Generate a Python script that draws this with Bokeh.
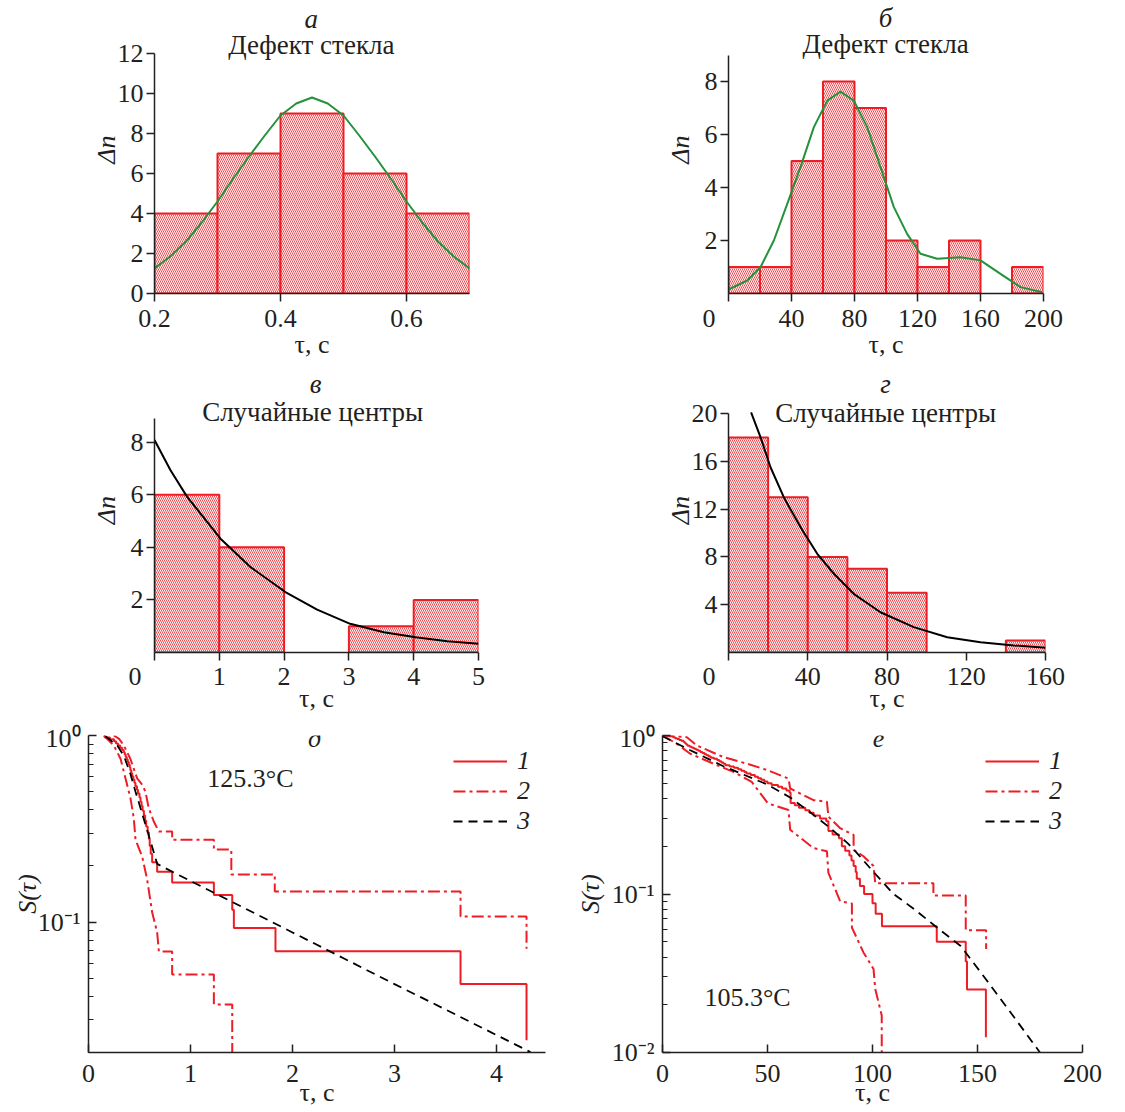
import numpy as np
from bokeh.plotting import figure
from bokeh.layouts import column, row
from bokeh.models import FixedTicker, Label, Legend, LegendItem, Range1d
from bokeh.embed import file_html
from bokeh.resources import INLINE

# ---------------- data ----------------
# (а) glass defect, tau in s
edges_a = [0.2, 0.3, 0.4, 0.5, 0.6, 0.7]
counts_a = [4, 7, 9, 6, 4]
fit_a_x = [0.2, 0.225, 0.25, 0.275, 0.3, 0.325, 0.35, 0.375, 0.4, 0.425, 0.45,
           0.475, 0.5, 0.525, 0.55, 0.575, 0.6, 0.625, 0.65, 0.675, 0.7]
fit_a_y = [1.25, 1.85, 2.6, 3.55, 4.6, 5.75, 6.85, 7.9, 8.9, 9.5, 9.8,
           9.5, 8.9, 7.9, 6.85, 5.75, 4.6, 3.55, 2.6, 1.85, 1.25]

# (б) glass defect
edges_b = [0, 20, 40, 60, 80, 100, 120, 140, 160, 180, 200]
counts_b = [1, 1, 5, 8, 7, 2, 1, 2, 0, 1]
fit_b_x = [0, 11.9, 20.3, 28.8, 37.3, 45.7, 54.2, 62.7, 71.1, 79.6, 88.1, 96.5,
           105, 113.4, 121.9, 132.5, 147.3, 160, 172.7, 185.4, 199.2]
fit_b_y = [0.15, 0.49, 0.99, 2.0, 3.38, 4.77, 6.28, 7.28, 7.62, 7.28, 6.28, 4.77,
           3.26, 2.25, 1.5, 1.31, 1.37, 1.25, 0.74, 0.24, 0.05]

# (в) random centres
edges_c = [0, 1, 2, 3, 4, 5]
counts_c = [6, 4, 0, 1, 2]
fit_c_x = [0, 0.247, 0.504, 1.019, 1.48, 2.02, 2.51, 3.02, 3.54, 4.03, 4.52, 5.0]
fit_c_y = [8.08, 6.93, 5.92, 4.33, 3.25, 2.3, 1.63, 1.09, 0.77, 0.58, 0.43, 0.33]

# (г) random centres
edges_d = [0, 20, 40, 60, 80, 100, 120, 140, 160]
counts_d = [18, 13, 8, 7, 5, 0, 0, 1]
fit_d_x = [11.4, 16.2, 21.2, 27.9, 36.3, 44.8, 53.2, 63.2, 76.7, 93.5, 110.4, 127.2, 144, 160]
fit_d_y = [20.1, 18.0, 15.5, 13.0, 10.5, 8.26, 6.59, 4.91, 3.37, 2.12, 1.28, 0.86, 0.59, 0.39]

# (д) survival, 125.3 C : event times of curve 1 (n = 43)
n_total_5 = 43
start_5 = 0.15
events_5 = [0.16, 0.21, 0.25, 0.27, 0.29, 0.31, 0.33, 0.345,
            0.355, 0.365, 0.375, 0.385, 0.395, 0.405, 0.41, 0.42, 0.428,
            0.44, 0.45, 0.46, 0.475, 0.485, 0.50, 0.51,
            0.52, 0.53, 0.543, 0.555, 0.565, 0.58, 0.592,
            0.60, 0.61, 0.624, 0.673,
            0.82, 1.229, 1.409, 1.425, 1.833, 3.647, 4.294]
upper_5_x = [0.248, 0.30, 0.346, 0.41, 0.477, 0.52, 0.559, 0.59, 0.64, 0.69, 0.82, 0.82,
             1.229, 1.229, 1.40, 1.40, 1.826, 1.826, 3.647, 3.647, 4.294, 4.294]
upper_5_s = [1.0, 0.96, 0.885, 0.751, 0.589, 0.55, 0.5, 0.408, 0.346, 0.306, 0.306, 0.276,
             0.276, 0.245, 0.245, 0.18, 0.18, 0.146, 0.146, 0.107, 0.107, 0.072]
lower_5_x = [0.15, 0.248, 0.314, 0.363, 0.412, 0.444, 0.461, 0.526, 0.575, 0.624, 0.673,
             0.69, 0.82, 0.82, 1.229, 1.229, 1.409, 1.409]
lower_5_s = [1.0, 0.885, 0.751, 0.589, 0.46, 0.36, 0.276, 0.225, 0.169, 0.113, 0.088,
             0.0695, 0.0695, 0.0523, 0.0523, 0.0362, 0.0362, 0.02]
model_5_x = [0.167, 0.281, 0.346, 0.412, 0.461, 0.51, 0.559, 0.608, 0.673, 1.0, 1.5,
             2.0, 2.5, 3.0, 3.5, 4.0, 4.333]
model_5_s = [0.99, 0.885, 0.78, 0.62, 0.5, 0.408, 0.332, 0.271, 0.205, 0.166, 0.121,
             0.088, 0.064, 0.0465, 0.034, 0.0248, 0.0201]

# (е) survival, 105.3 C : event times of curve 1 (n = 80)
n_total_6 = 80
start_6 = 0.0
events_6 = [3, 5, 6, 7, 8, 9, 10, 10.5, 11, 11.5, 12, 13,
            14, 15, 16, 17, 18, 19, 20,
            21, 22, 23, 24.5, 26, 27, 28, 29, 30,
            32, 34, 36, 37.5, 39, 40,
            42, 44, 45.5, 47, 48.5, 50,
            52, 55, 57, 59, 60.5,
            61, 61, 61, 61, 61,
            63, 65, 68, 70, 72, 75, 78,
            79, 79, 79, 81, 84, 85.4, 85.4, 87, 89,
            90, 91, 92, 92.5, 94, 96,
            100, 101.5, 104.5, 130.6, 144.4, 145, 154]
upper_6_x = [0, 11.6, 16.3, 29, 40.2, 50.2, 60, 60.8, 71.9, 78.3, 79, 84.6, 91, 91,
             95.7, 100.5, 101.3, 129, 129, 144.4, 144.4, 154.1, 154.1]
upper_6_s = [1.0, 0.976, 0.866, 0.731, 0.664, 0.603, 0.535, 0.463, 0.391, 0.382, 0.308,
             0.26, 0.236, 0.19, 0.173, 0.15, 0.117, 0.117, 0.098, 0.098, 0.059, 0.059, 0.0449]
lower_6_x = [0, 6.8, 13.2, 24.3, 33.8, 42.5, 50.2, 60, 60.8, 71.9, 78.3, 79, 84.6,
             90.2, 90.2, 95.7, 100.5, 101.3, 104.4, 104.4]
lower_6_s = [1.0, 0.887, 0.767, 0.664, 0.589, 0.51, 0.373, 0.339, 0.254, 0.195, 0.186,
             0.136, 0.09, 0.087, 0.0614, 0.0428, 0.0336, 0.0252, 0.0171, 0.0095]
model_6_x = [0, 13, 29, 50, 61, 70, 80, 88, 92, 100, 110, 120, 131, 142, 154, 167, 180]
model_6_s = [0.99, 0.81, 0.64, 0.49, 0.405, 0.33, 0.26, 0.21, 0.185, 0.14, 0.1, 0.08,
             0.061, 0.047, 0.029, 0.017, 0.0099]

legend_labels = ["1", "2", "3"]
log_labels = {1: "10⁰", 0.1: "10⁻¹", 0.01: "10⁻²"}

# ---------------- style ----------------
FONT = "Liberation Serif"
RED = "#ee1d25"
GREEN = "#23923b"
INK = "#231f20"
FS = "26px"
FS_T = "27px"
NB = "\u00a0"
ORIGIN0 = "0" + NB * 6


def km_steps(start, events, n):
    xs = [start] + list(events)
    remaining = n - np.arange(0, len(events) + 1)
    return xs, list(remaining / n)


def make_fig(w, h, left, right, top, bottom, xr, yr, log=False):
    p = figure(width=w, height=h, min_border_left=left, min_border_right=right,
               min_border_top=top, min_border_bottom=bottom,
               x_range=Range1d(*xr), y_range=Range1d(*yr),
               y_axis_type="log" if log else "linear",
               output_backend="svg", toolbar_location=None, tools="")
    p.outline_line_color = None
    p.grid.visible = False
    p.background_fill_color = "white"
    p.border_fill_color = "white"
    for ax in p.axis:
        ax.axis_line_color = INK
        ax.axis_line_width = 1.5
        ax.major_tick_line_color = INK
        ax.major_tick_line_width = 1.5
        ax.minor_tick_line_color = INK
        ax.minor_tick_line_width = 1.2
        ax.major_label_text_font = FONT
        ax.major_label_text_font_size = FS
        ax.major_label_text_color = INK
        ax.axis_label_text_font = FONT
        ax.axis_label_text_font_size = FS
        ax.axis_label_text_color = INK
        ax.axis_label_text_font_style = "normal"
    return p


def hist_style(p, xticks, yticks, ybounds, ylab_standoff, xtick_standoff, xlab_standoff,
               x_overrides):
    p.xaxis.ticker = FixedTicker(ticks=xticks)
    p.yaxis.ticker = FixedTicker(ticks=yticks)
    p.yaxis.bounds = ybounds
    for ax in (p.xaxis[0], p.yaxis[0]):
        ax.major_tick_in = 0
        ax.major_tick_out = 8
        ax.minor_tick_in = 0
        ax.minor_tick_out = 0
    p.xaxis.major_label_standoff = xtick_standoff
    p.yaxis.major_label_standoff = 3
    p.xaxis.axis_label = "τ, с"
    p.xaxis.axis_label_standoff = xlab_standoff
    p.yaxis.axis_label = "Δn"
    p.yaxis.axis_label_text_font_style = "italic"
    p.yaxis.axis_label_standoff = ylab_standoff
    p.xaxis.major_label_overrides = x_overrides


def bars(p, edges, counts):
    left = [edges[i] for i in range(len(counts)) if counts[i] > 0]
    right = [edges[i + 1] for i in range(len(counts)) if counts[i] > 0]
    top = [c for c in counts if c > 0]
    p.quad(left=left, right=right, top=top, bottom=0,
           fill_color="white", line_color=RED, line_width=2,
           hatch_pattern="\\", hatch_color=RED, hatch_scale=4, hatch_weight=1, hatch_alpha=0.8)


def text(p, x, y, s, italic=False, size=FS):
    p.add_layout(Label(x=x, y=y, text=s, text_font=FONT, text_font_size=size,
                       text_color=INK, text_align="center", text_baseline="middle",
                       text_font_style="italic" if italic else "normal"))


# ---- row 1 : frames 5..293
pa = make_fig(568, 367, 154, 99, 5, 74, (0.2, 0.7), (0, 14.4))
hist_style(pa, [0.2, 0.4, 0.6], [0, 2, 4, 6, 8, 10, 12], (0, 12), -6, 2, -6,
           {0.2: NB + "0.2" + NB})
bars(pa, edges_a, counts_a)
pa.line(fit_a_x, fit_a_y, line_color=GREEN, line_width=2)
text(pa, 0.449, 13.75, "а", italic=True, size=FS_T)
text(pa, 0.449, 12.45, "Дефект стекла", size=FS_T)

pb = make_fig(550, 367, 160, 75, 5, 74, (0, 200), (0, 10.868))
hist_style(pb, [0, 40, 80, 120, 160, 200], [2, 4, 6, 8], (0, 9), 7, 2, -6, {0: ORIGIN0})
bars(pb, edges_b, counts_b)
pb.line(fit_b_x, fit_b_y, line_color=GREEN, line_width=2)
text(pb, 99.7, 10.38, "б", italic=True, size=FS_T)
text(pb, 99.7, 9.4, "Дефект стекла", size=FS_T)

# ---- row 2 : frames 367..652
pc = make_fig(568, 356, 154, 90, 0, 71, (0, 5), (0, 10.84))
hist_style(pc, [0, 1, 2, 3, 4, 5], [2, 4, 6, 8], (0, 8.9), 7, 1, -10, {0: ORIGIN0})
bars(pc, edges_c, counts_c)
pc.line(fit_c_x, fit_c_y, line_color="black", line_width=2)
text(pc, 2.485, 10.23, "в", italic=True, size=FS_T)
text(pc, 2.44, 9.13, "Случайные центры", size=FS_T)

pd_ = make_fig(550, 356, 160, 73, 0, 71, (0, 160), (0, 23.85))
hist_style(pd_, [0, 40, 80, 120, 160], [4, 8, 12, 16, 20], (0, 20), -6, 1, -10, {0: ORIGIN0})
bars(pd_, edges_d, counts_d)
pd_.line(fit_d_x, fit_d_y, line_color="black", line_width=2)
text(pd_, 79.3, 22.51, "г", italic=True, size=FS_T)
text(pd_, 79.3, 20.08, "Случайные центры", size=FS_T)


def surv_style(p, xticks, yticks, yminor, ylab_standoff):
    p.xaxis.ticker = FixedTicker(ticks=xticks)
    p.yaxis.ticker = FixedTicker(ticks=yticks, minor_ticks=yminor)
    for ax in (p.xaxis[0], p.yaxis[0]):
        ax.major_tick_in = 8
        ax.major_tick_out = 0
        ax.minor_tick_in = 5
        ax.minor_tick_out = 0
    p.xaxis.minor_tick_in = 0
    p.xaxis.major_label_standoff = 12
    p.xaxis.axis_label = "τ, с"
    p.xaxis.axis_label_standoff = -7
    p.yaxis.major_label_overrides = log_labels
    p.yaxis.major_label_standoff = 8
    p.yaxis.axis_label = "S(τ)"
    p.yaxis.axis_label_text_font_style = "italic"
    p.yaxis.axis_label_standoff = ylab_standoff


def surv_lines(p, sx, ss, ux, us, lx, ls, mx, ms, legend_xy):
    r1 = p.step(sx, ss, mode="after", line_color=RED, line_width=2)
    r2 = p.line(ux, us, line_color=RED, line_width=2, line_dash="12 4 3 4")
    p.line(lx, ls, line_color=RED, line_width=2, line_dash="12 4 3 4")
    r3 = p.line(mx, ms, line_color="black", line_width=1.8, line_dash="9 6")
    leg = Legend(items=[LegendItem(label=legend_labels[0], renderers=[r1]),
                        LegendItem(label=legend_labels[1], renderers=[r2]),
                        LegendItem(label=legend_labels[2], renderers=[r3])],
                 location=legend_xy, orientation="vertical",
                 glyph_width=54, glyph_height=22, label_height=22, spacing=-1,
                 padding=0, margin=0, label_standoff=10,
                 border_line_color=None, background_fill_alpha=0,
                 label_text_font=FONT, label_text_font_size=FS,
                 label_text_font_style="italic", label_text_color=INK)
    p.add_layout(leg)


minor_log = [0.02, 0.03, 0.04, 0.05, 0.06, 0.07, 0.08, 0.09,
             0.2, 0.3, 0.4, 0.5, 0.6, 0.7, 0.8, 0.9]

# ---- row 3 : frames 735..1052
pe = make_fig(568, 388, 88, 23, 12, 59, (0, 4.48), (0.02, 1), log=True)
surv_style(pe, [0, 1, 2, 3, 4], [0.1, 1], minor_log, -7)
sx5, ss5 = km_steps(start_5, events_5, n_total_5)
surv_lines(pe, sx5, ss5, upper_5_x, upper_5_s, lower_5_x, lower_5_s,
           model_5_x, model_5_s, (365, 216))
text(pe, 2.216, 0.964, "д", italic=True)
text(pe, 1.588, 0.588, "125.3°C")

pf = make_fig(550, 388, 94, 36, 12, 59, (0, 200), (0.01, 1), log=True)
surv_style(pf, [0, 50, 100, 150, 200], [0.01, 0.1, 1], minor_log, 4)
sx6, ss6 = km_steps(start_6, events_6, n_total_6)
surv_lines(pf, sx6, ss6, upper_6_x, upper_6_s, lower_6_x, lower_6_s,
           model_6_x, model_6_s, (323, 216))
text(pf, 102.9, 0.957, "е", italic=True)
text(pf, 40.5, 0.0222, "105.3°C")

layout = column(row(pa, pb), row(pc, pd_), row(pe, pf))
open("out.html", "w").write(file_html(layout, INLINE))
